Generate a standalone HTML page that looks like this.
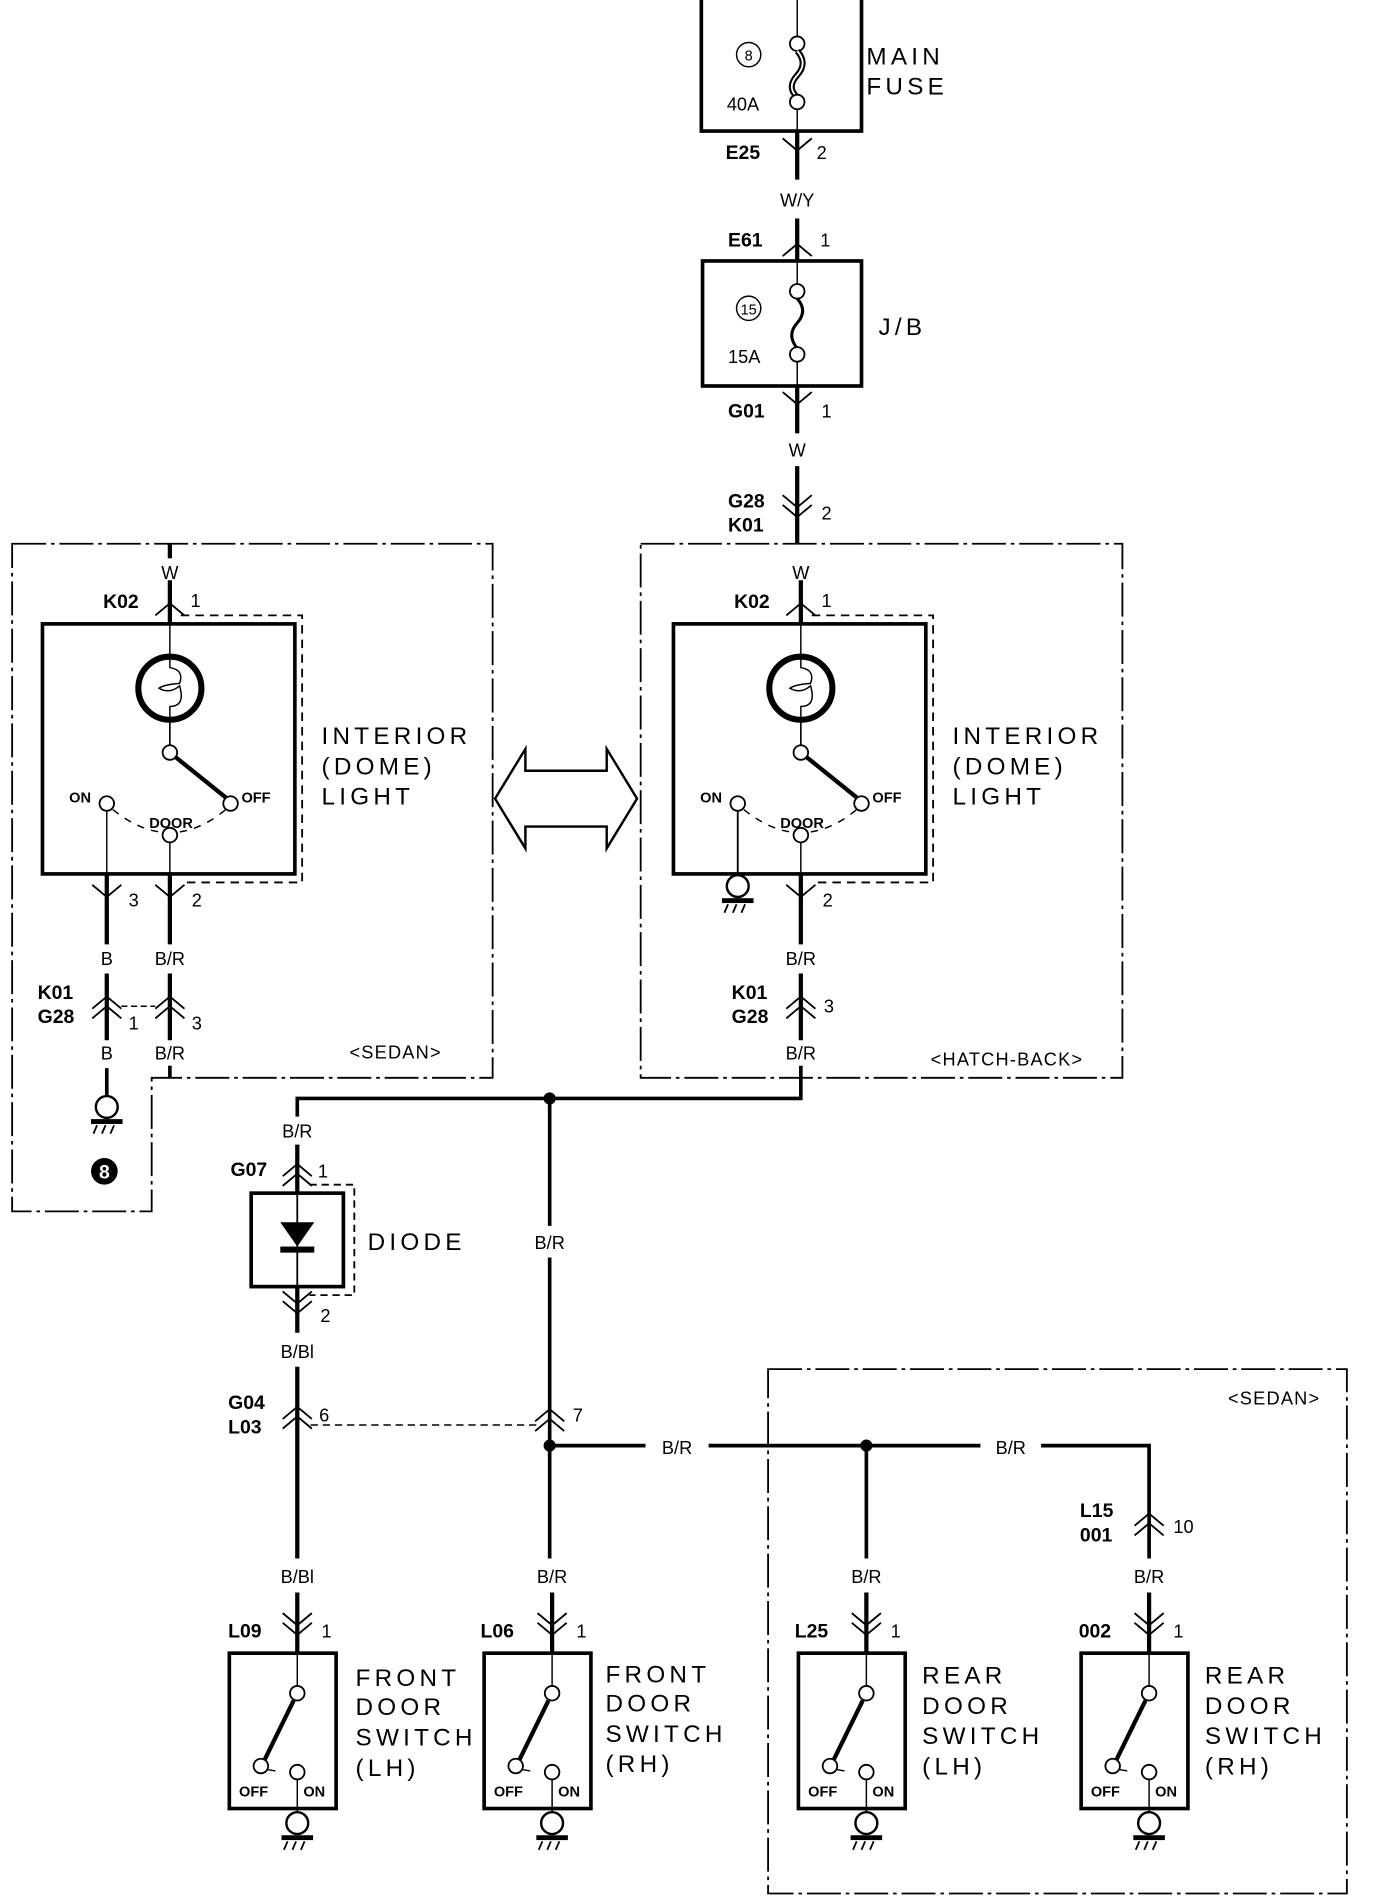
<!DOCTYPE html>
<html><head><meta charset="utf-8"><style>
html,body{margin:0;padding:0;background:#fff;}
svg{display:block;}
text{font-family:"Liberation Sans",sans-serif;fill:#000;}
.l{font-size:15px;}
.b{font-size:16px;font-weight:bold;}
.big{font-size:20px;letter-spacing:3.5px;}
.s{font-size:12px;font-weight:bold;}
</style></head><body>
<svg width="1376" height="1902" viewBox="0 0 1134 1567" preserveAspectRatio="none" xmlns="http://www.w3.org/2000/svg">
<defs>
<path id="up" d="M-12,9 L0,-1 L12,9" fill="none" stroke="#000" stroke-width="1.5"/>
<path id="dn" d="M-12,-9 L0,1 L12,-9" fill="none" stroke="#000" stroke-width="1.5"/>
<g id="up2"><use href="#up"/><use href="#up" y="8"/></g>
<g id="dn2"><use href="#dn" y="-4"/><use href="#dn" y="4"/></g>
<g id="gnd">
<circle cx="0" cy="0" r="9" fill="#fff" stroke="#000" stroke-width="2"/>
<rect x="-13" y="10" width="26" height="4" fill="#000"/>
<path d="M-8,15 L-11,22 M-1,15 L-4,22 M6,15 L3,22" stroke="#000" stroke-width="1.5"/>
</g>
<g id="sw">
<rect x="-56" y="0" width="88" height="128" fill="none" stroke="#000" stroke-width="3"/>
<line x1="0" y1="0" x2="0" y2="27" stroke="#000" stroke-width="1.2"/>
<circle cx="0" cy="33" r="6" fill="#fff" stroke="#000" stroke-width="1.5"/>
<line x1="-3" y1="39" x2="-27" y2="88" stroke="#000" stroke-width="3.5"/>
<circle cx="-30" cy="93" r="6" fill="#fff" stroke="#000" stroke-width="1.5"/>
<line x1="-24" y1="96" x2="-18" y2="97" stroke="#000" stroke-width="1.2"/>
<circle cx="0" cy="98" r="6" fill="#fff" stroke="#000" stroke-width="1.5"/>
<line x1="0" y1="104" x2="0" y2="140" stroke="#000" stroke-width="1.2"/>
<text x="-48" y="118" class="s">OFF</text>
<text x="5" y="118" class="s">ON</text>
<use href="#gnd" y="140"/>
</g>
<g id="dome">
<rect x="35" y="514" width="208" height="206" fill="none" stroke="#000" stroke-width="3"/>
<path d="M149,507 H249 V727 H149" fill="none" stroke="#000" stroke-width="1.5" stroke-dasharray="7,5"/>
<line x1="140" y1="514" x2="140" y2="614" stroke="#000" stroke-width="1.2"/>
<circle cx="140" cy="567" r="26" fill="#fff" stroke="#000" stroke-width="5"/>
<path d="M140,543 V550 Q152,552 148,563 Q135,564 131,567 Q140,572 148,565 Q153,582 140,582 V591" fill="none" stroke="#000" stroke-width="1.2"/>
<line x1="140" y1="593" x2="140" y2="614" stroke="#000" stroke-width="1.2"/>
<circle cx="140" cy="620" r="6" fill="#fff" stroke="#000" stroke-width="1.5"/>
<line x1="145" y1="624" x2="186" y2="657" stroke="#000" stroke-width="3.5"/>
<circle cx="190" cy="662" r="6" fill="#fff" stroke="#000" stroke-width="1.5"/>
<path d="M93,667 Q140,705 186,667" fill="none" stroke="#000" stroke-width="1.2" stroke-dasharray="6,6"/>
<circle cx="88" cy="662" r="6" fill="#fff" stroke="#000" stroke-width="1.5"/>
<circle cx="140" cy="688" r="6" fill="#fff" stroke="#000" stroke-width="1.5"/>
<text x="57" y="661" class="s">ON</text>
<text x="199" y="661" class="s">OFF</text>
<text x="123" y="682" class="s">DOOR</text>
<line x1="140" y1="694" x2="140" y2="720" stroke="#000" stroke-width="1.2"/>
<line x1="140" y1="478" x2="140" y2="514" stroke="#000" stroke-width="3.5"/>
<use href="#up" x="140" y="498"/>
<text x="140" y="477" class="l" text-anchor="middle">W</text>
<text x="85" y="501" class="b">K02</text>
<text x="157" y="500" class="l">1</text>
<text x="265" y="613" class="big">INTERIOR</text>
<text x="265" y="638" class="big">(DOME)</text>
<text x="265" y="663" class="big">LIGHT</text>
</g>
</defs>

<!-- Main fuse -->
<path d="M578,0 V108 H710 V0" fill="none" stroke="#000" stroke-width="3"/>
<line x1="657" y1="0" x2="657" y2="38" stroke="#000" stroke-width="1.2"/>
<circle cx="657" cy="36" r="6" fill="#fff" stroke="#000" stroke-width="1.5"/>
<path d="M657,42 Q666,52 657,62 Q648,72 657,80" fill="none" stroke="#000" stroke-width="5"/>
<path d="M657,42 Q666,52 657,62 Q648,72 657,80" fill="none" stroke="#fff" stroke-width="1.5"/>
<circle cx="657" cy="84" r="6" fill="#fff" stroke="#000" stroke-width="1.5"/>
<line x1="657" y1="90" x2="657" y2="108" stroke="#000" stroke-width="1.2"/>
<circle cx="617" cy="45" r="10" fill="none" stroke="#000" stroke-width="1.2"/>
<text x="617" y="50" font-size="12" text-anchor="middle">8</text>
<text x="599" y="91" class="l">40A</text>
<text x="714" y="53" class="big">MAIN</text>
<text x="714" y="78" class="big">FUSE</text>
<line x1="657" y1="108" x2="657" y2="148" stroke="#000" stroke-width="3.5"/>
<use href="#dn" x="657" y="123"/>
<text x="598" y="131" class="b">E25</text>
<text x="673" y="131" class="l">2</text>
<text x="657" y="170" class="l" text-anchor="middle">W/Y</text>
<line x1="657" y1="180" x2="657" y2="215" stroke="#000" stroke-width="3.5"/>
<use href="#up" x="657" y="202"/>
<text x="600" y="203" class="b">E61</text>
<text x="676" y="203" class="l">1</text>
<!-- J/B -->
<rect x="579" y="215" width="131" height="103" fill="none" stroke="#000" stroke-width="3"/>
<line x1="657" y1="215" x2="657" y2="236" stroke="#000" stroke-width="1.2"/>
<circle cx="657" cy="240" r="6" fill="#fff" stroke="#000" stroke-width="1.5"/>
<path d="M657,246 Q666,256 657,266 Q648,276 657,287" fill="none" stroke="#000" stroke-width="2.5"/>
<circle cx="657" cy="292" r="6" fill="#fff" stroke="#000" stroke-width="1.5"/>
<line x1="657" y1="298" x2="657" y2="318" stroke="#000" stroke-width="1.2"/>
<circle cx="617" cy="254" r="10" fill="none" stroke="#000" stroke-width="1.2"/>
<text x="617" y="259" font-size="12" text-anchor="middle">15</text>
<text x="600" y="299" class="l">15A</text>
<text x="724" y="276" class="big">J/B</text>
<line x1="657" y1="318" x2="657" y2="357" stroke="#000" stroke-width="3.5"/>
<use href="#dn" x="657" y="332"/>
<text x="600" y="344" class="b">G01</text>
<text x="677" y="344" class="l">1</text>
<text x="657" y="376" class="l" text-anchor="middle">W</text>
<line x1="657" y1="384" x2="657" y2="448" stroke="#000" stroke-width="3.5"/>
<use href="#dn2" x="657" y="421"/>
<text x="600" y="418" class="b">G28</text>
<text x="600" y="438" class="b">K01</text>
<text x="677" y="428" class="l">2</text>

<path d="M10,448 H406 V888 H125 V998 H10 Z" fill="none" stroke="#000" stroke-width="1.5" stroke-dasharray="28,4,3,4"/>
<rect x="528" y="448" width="397" height="440" fill="none" stroke="#000" stroke-width="1.5" stroke-dasharray="28,4,3,4"/>

<!-- left dome -->
<use href="#dome"/>
<line x1="140" y1="448" x2="140" y2="460" stroke="#000" stroke-width="3.5"/>
<line x1="88" y1="668" x2="88" y2="720" stroke="#000" stroke-width="1.2"/>
<line x1="88" y1="720" x2="88" y2="778" stroke="#000" stroke-width="3.5"/>
<line x1="140" y1="720" x2="140" y2="778" stroke="#000" stroke-width="3.5"/>
<use href="#dn" x="88" y="738"/><use href="#dn" x="140" y="738"/>
<text x="106" y="747" class="l">3</text>
<text x="158" y="747" class="l">2</text>
<text x="88" y="795" class="l" text-anchor="middle">B</text>
<text x="140" y="795" class="l" text-anchor="middle">B/R</text>
<line x1="88" y1="802" x2="88" y2="857" stroke="#000" stroke-width="3.5"/>
<line x1="140" y1="802" x2="140" y2="857" stroke="#000" stroke-width="3.5"/>
<use href="#up2" x="88" y="822"/><use href="#up2" x="140" y="822"/>
<line x1="100" y1="829" x2="128" y2="829" stroke="#000" stroke-width="1.2" stroke-dasharray="5,3"/>
<text x="31" y="823" class="b">K01</text>
<text x="31" y="843" class="b">G28</text>
<text x="106" y="848" class="l">1</text>
<text x="158" y="848" class="l">3</text>
<text x="88" y="873" class="l" text-anchor="middle">B</text>
<text x="140" y="873" class="l" text-anchor="middle">B/R</text>
<line x1="140" y1="878" x2="140" y2="888" stroke="#000" stroke-width="3"/>
<line x1="88" y1="880" x2="88" y2="903" stroke="#000" stroke-width="3"/>
<use href="#gnd" x="88" y="912"/>
<circle cx="86" cy="965" r="11" fill="#000"/>
<text x="86" y="971" font-size="16" font-weight="bold" text-anchor="middle" style="fill:#fff">8</text>
<text x="288" y="872" class="l" letter-spacing="1">&lt;SEDAN&gt;</text>

<!-- right dome -->
<use href="#dome" x="520"/>
<line x1="608" y1="668" x2="608" y2="727" stroke="#000" stroke-width="1.5"/>
<use href="#gnd" x="608" y="730"/>
<line x1="660" y1="720" x2="660" y2="778" stroke="#000" stroke-width="3.5"/>
<use href="#dn" x="660" y="738"/>
<text x="678" y="747" class="l">2</text>
<text x="660" y="795" class="l" text-anchor="middle">B/R</text>
<line x1="660" y1="802" x2="660" y2="857" stroke="#000" stroke-width="3.5"/>
<use href="#up2" x="660" y="822"/>
<text x="603" y="823" class="b">K01</text>
<text x="603" y="843" class="b">G28</text>
<text x="679" y="834" class="l">3</text>
<text x="660" y="873" class="l" text-anchor="middle">B/R</text>
<text x="767" y="878" class="l" letter-spacing="1">&lt;HATCH-BACK&gt;</text>

<path d="M408,658 L433,617 V635 H500 V617 L525,658 L500,699 V681 H433 V699 Z" fill="#fff" stroke="#000" stroke-width="2"/>

<path d="M660,878 V905 H245 V920" fill="none" stroke="#000" stroke-width="3"/>
<circle cx="453" cy="905" r="5" fill="#000"/>
<text x="245" y="937" class="l" text-anchor="middle">B/R</text>
<line x1="245" y1="943" x2="245" y2="983" stroke="#000" stroke-width="3.5"/>
<use href="#up2" x="245" y="960"/>
<text x="190" y="969" class="b">G07</text>
<text x="262" y="970" class="l">1</text>
<rect x="207" y="983" width="76" height="77" fill="none" stroke="#000" stroke-width="3"/>
<path d="M255,976 H292 V1067 H255" fill="none" stroke="#000" stroke-width="1.5" stroke-dasharray="6,4"/>
<line x1="245" y1="983" x2="245" y2="1060" stroke="#000" stroke-width="1.5"/>
<path d="M231,1007 H259 L245,1027 Z" fill="#000"/>
<rect x="231" y="1027" width="28" height="5" fill="#000"/>
<text x="303" y="1030" class="big">DIODE</text>
<line x1="245" y1="1060" x2="245" y2="1098" stroke="#000" stroke-width="3.5"/>
<use href="#dn2" x="245" y="1077"/>
<text x="264" y="1089" class="l">2</text>
<text x="245" y="1119" class="l" text-anchor="middle">B/Bl</text>
<line x1="245" y1="1126" x2="245" y2="1284" stroke="#000" stroke-width="3.5"/>
<use href="#up2" x="245" y="1160"/>
<text x="188" y="1161" class="b">G04</text>
<text x="188" y="1181" class="b">L03</text>
<text x="263" y="1171" class="l">6</text>
<line x1="256" y1="1174" x2="442" y2="1174" stroke="#000" stroke-width="1.2" stroke-dasharray="6,4"/>
<line x1="453" y1="905" x2="453" y2="1010" stroke="#000" stroke-width="3"/>
<text x="453" y="1029" class="l" text-anchor="middle">B/R</text>
<line x1="453" y1="1036" x2="453" y2="1284" stroke="#000" stroke-width="3"/>
<use href="#up2" x="453" y="1162"/>
<text x="472" y="1171" class="l">7</text>
<circle cx="453" cy="1191" r="5" fill="#000"/>
<line x1="453" y1="1191" x2="532" y2="1191" stroke="#000" stroke-width="3"/>
<text x="558" y="1198" class="l" text-anchor="middle">B/R</text>
<line x1="584" y1="1191" x2="808" y2="1191" stroke="#000" stroke-width="3"/>
<circle cx="714" cy="1191" r="5" fill="#000"/>
<text x="833" y="1198" class="l" text-anchor="middle">B/R</text>
<path d="M858,1191 H947 V1284" fill="none" stroke="#000" stroke-width="3"/>
<use href="#up2" x="947" y="1248"/>
<text x="890" y="1250" class="b">L15</text>
<text x="890" y="1270" class="b">001</text>
<text x="967" y="1263" class="l">10</text>
<line x1="714" y1="1191" x2="714" y2="1284" stroke="#000" stroke-width="3"/>

<rect x="633" y="1128" width="477" height="432" fill="none" stroke="#000" stroke-width="1.5" stroke-dasharray="28,4,3,4"/>
<text x="1012" y="1157" class="l" letter-spacing="1">&lt;SEDAN&gt;</text>

<text x="245" y="1304" class="l" text-anchor="middle">B/Bl</text>
<text x="455" y="1304" class="l" text-anchor="middle">B/R</text>
<text x="714" y="1304" class="l" text-anchor="middle">B/R</text>
<text x="947" y="1304" class="l" text-anchor="middle">B/R</text>
<g stroke="#000" stroke-width="3.5">
<line x1="245" y1="1312" x2="245" y2="1362"/>
<line x1="455" y1="1312" x2="455" y2="1362"/>
<line x1="714" y1="1312" x2="714" y2="1362"/>
<line x1="947" y1="1312" x2="947" y2="1362"/>
</g>
<use href="#dn2" x="245" y="1342"/><use href="#dn2" x="455" y="1342"/>
<use href="#dn2" x="714" y="1342"/><use href="#dn2" x="947" y="1342"/>
<text x="188" y="1349" class="b">L09</text><text x="265" y="1349" class="l">1</text>
<text x="396" y="1349" class="b">L06</text><text x="475" y="1349" class="l">1</text>
<text x="655" y="1349" class="b">L25</text><text x="734" y="1349" class="l">1</text>
<text x="889" y="1349" class="b">002</text><text x="967" y="1349" class="l">1</text>
<use href="#sw" x="245" y="1362"/>
<use href="#sw" x="455" y="1362"/>
<use href="#sw" x="714" y="1362"/>
<use href="#sw" x="947" y="1362"/>
<text x="293" y="1389" class="big">FRONT</text><text x="293" y="1413" class="big">DOOR</text><text x="293" y="1438" class="big">SWITCH</text><text x="293" y="1463" class="big">(LH)</text>
<text x="499" y="1386" class="big">FRONT</text><text x="499" y="1410" class="big">DOOR</text><text x="499" y="1435" class="big">SWITCH</text><text x="499" y="1460" class="big">(RH)</text>
<text x="760" y="1387" class="big">REAR</text><text x="760" y="1412" class="big">DOOR</text><text x="760" y="1437" class="big">SWITCH</text><text x="760" y="1462" class="big">(LH)</text>
<text x="993" y="1387" class="big">REAR</text><text x="993" y="1412" class="big">DOOR</text><text x="993" y="1437" class="big">SWITCH</text><text x="993" y="1462" class="big">(RH)</text>
</svg>
</body></html>
